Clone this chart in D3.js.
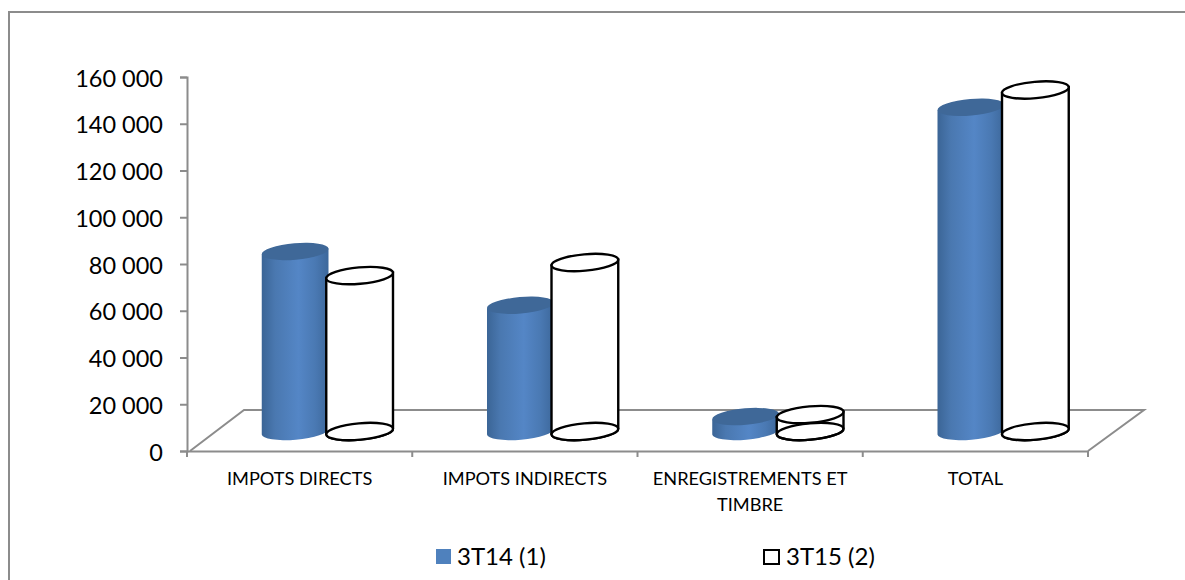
<!DOCTYPE html>
<html>
<head>
<meta charset="utf-8">
<script src="https://cdnjs.cloudflare.com/ajax/libs/d3/7.8.5/d3.min.js"></script>
<style>
  html, body { margin: 0; padding: 0; background: #fff; overflow: hidden; }
  text { font-family: Lato, "Open Sans", sans-serif; fill: #000; }
</style>
</head>
<body>
<div id="chart"></div>
<script>
const categories = ['IMPOTS DIRECTS', 'IMPOTS INDIRECTS', ['ENREGISTREMENTS ET', 'TIMBRE'], 'TOTAL'];
const series14 = [77000, 54000, 6400, 138700];
const series15 = [66700, 72300, 7250, 146100];
const seriesNames = ['3T14 (1)', '3T15 (2)'];
const yTicks = [0, 20000, 40000, 60000, 80000, 100000, 120000, 140000, 160000];

const W = 1185;
const H = 580;
const plot = { l: 187, r: 1088, t: 77, b: 451 };
// how far the floor runs back from the front axis
const depth = { x: 56, y: 41 };
const grey = '#8c8c8c';
const rx = 33.5;
const ry = 8.2;
const tilt = -5;

const svg = d3.select('#chart').append('svg')
  .attr('width', W)
  .attr('height', H);

const defs = svg.append('defs');
const bodyGradient = defs.append('linearGradient')
  .attr('id', 'cyl-body');
bodyGradient.selectAll('stop')
  .data([[0, '#3b6596'], [0.2, '#4a78b0'], [0.55, '#5486c6'], [0.8, '#4a79b3'], [1, '#3d689b']])
  .enter().append('stop')
  .attr('offset', d => d[0])
  .attr('stop-color', d => d[1]);

// outer frame, open on the right and at the bottom
svg.append('path')
  .attr('d', 'M9,580V12H1185')
  .attr('fill', 'none')
  .attr('stroke', grey)
  .attr('stroke-width', 2);

const scaleX = d3.scaleBand()
  .domain(d3.range(categories.length))
  .range([plot.l, plot.r]);

const scaleY = d3.scaleLinear()
  .domain([0, 160000])
  .range([plot.b, plot.t]);

const format = v => d3.format(',')(v).replace(/,/g, ' ');

// floor
svg.append('path')
  .attr('d', `M${plot.l + 3},${plot.b}L${plot.l + depth.x + 1},${plot.b - depth.y}H${plot.r + depth.x}L${plot.r},${plot.b}`)
  .attr('fill', 'none')
  .attr('stroke', grey)
  .attr('stroke-width', 2);

// Axes
const yAxis = d3.axisLeft(scaleY)
  .tickValues(yTicks)
  .tickFormat(format)
  .tickSize(7)
  .tickPadding(17);

const xAxis = d3.axisBottom(scaleX)
  .tickValues([])
  .tickSize(0);

const gy = svg.append('g')
  .attr('transform', `translate(${plot.l}, 0)`)
  .call(yAxis);
gy.select('.domain').attr('stroke', grey).attr('stroke-width', 2);
gy.selectAll('.tick line').attr('stroke', grey).attr('stroke-width', 2);
gy.selectAll('text')
  .attr('font-size', 23.5)
  .attr('dy', '0.39em')
  .attr('fill', '#000')
  .attr('font-family', 'Lato');

const gx = svg.append('g')
  .attr('transform', `translate(0, ${plot.b})`)
  .call(xAxis);
gx.select('.domain').attr('stroke', grey).attr('stroke-width', 2);

// x ticks sit on the band edges
gx.selectAll('.edge')
  .data(d3.range(categories.length + 1))
  .enter().append('line')
  .attr('class', 'edge')
  .attr('x1', d => plot.l + d * scaleX.bandwidth())
  .attr('x2', d => plot.l + d * scaleX.bandwidth())
  .attr('y1', 0)
  .attr('y2', 6)
  .attr('stroke', grey)
  .attr('stroke-width', 2);

const catLabels = svg.selectAll('.cat')
  .data(categories)
  .enter().append('text')
  .attr('class', 'cat')
  .attr('text-anchor', 'middle')
  .attr('font-size', 18.2);

catLabels.selectAll('tspan')
  .data(d => Array.isArray(d) ? d : [d])
  .enter().append('tspan')
  .attr('y', (d, i) => 485 + i * 26)
  .attr('x', function () {
    const idx = categories.indexOf(d3.select(this.parentNode).datum());
    return scaleX(idx) + scaleX.bandwidth() / 2;
  })
  .text(d => d);

// Cylinders: the base sits halfway back on the floor
const baseY = plot.b - 19.5;
const groupOffset = 28;
const cylinderData = [
  { values: series14, shift: -32.5, solid: true },
  { values: series15, shift: 32, solid: false }
];

function topY(v) {
  return baseY - (scaleY(0) - scaleY(v));
}

function bodyPath(cx, yTop, yBase) {
  const dy = rx * Math.sin(-tilt * Math.PI / 180);
  const a = rx * Math.cos(tilt * Math.PI / 180);
  const lower = `A${rx},${ry} ${tilt} 0 0 ${cx + a},${yBase - dy}`;
  return `M${cx - a},${yTop + dy}L${cx - a},${yBase + dy}${lower}L${cx + a},${yTop - dy}Z`;
}

cylinderData.forEach(s => {
  const g = svg.append('g').attr('class', s.solid ? 'series-a' : 'series-b');
  s.values.forEach((v, i) => {
    const cx = scaleX(i) + scaleX.bandwidth() / 2 + groupOffset + s.shift;
    const yt = topY(v);
    if (s.solid) {
      g.append('path')
        .attr('d', bodyPath(cx, yt, baseY))
        .attr('fill', 'url(#cyl-body)');
      g.append('ellipse')
        .attr('rx', rx).attr('ry', ry)
        .attr('transform', `translate(${cx},${yt}) rotate(${tilt})`)
        .attr('fill', '#3f6898');
    } else {
      g.append('path')
        .attr('d', bodyPath(cx, yt, baseY))
        .attr('fill', '#fff')
        .attr('stroke', '#000')
        .attr('stroke-width', 2.4);
      g.append('ellipse')
        .attr('rx', rx).attr('ry', ry)
        .attr('transform', `translate(${cx},${baseY}) rotate(${tilt})`)
        .attr('fill', v < 10000 ? 'none' : '#fff')
        .attr('stroke', '#000')
        .attr('stroke-width', 2.4);
      g.append('ellipse')
        .attr('rx', rx).attr('ry', ry)
        .attr('transform', `translate(${cx},${yt}) rotate(${tilt})`)
        .attr('fill', '#fff')
        .attr('stroke', '#000')
        .attr('stroke-width', 2.4);
    }
  });
});

// Legend
const legend = svg.append('g').attr('class', 'legend');
legend.append('rect')
  .attr('x', 436).attr('y', 549).attr('width', 15).attr('height', 15)
  .attr('fill', '#4f81bd');
legend.append('text')
  .attr('x', 457).attr('y', 565).attr('font-size', 24)
  .text(seriesNames[0]);
legend.append('rect')
  .attr('x', 764).attr('y', 550).attr('width', 15).attr('height', 14)
  .attr('fill', '#fff').attr('stroke', '#000').attr('stroke-width', 2);
legend.append('text')
  .attr('x', 786).attr('y', 565).attr('font-size', 24)
  .text(seriesNames[1]);
</script>
</body>
</html>
